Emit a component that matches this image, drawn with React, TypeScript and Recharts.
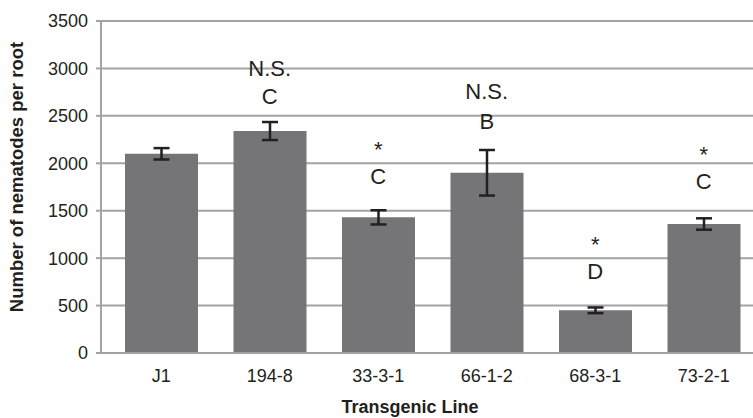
import { ComposedChart, Bar, Scatter, ErrorBar, XAxis, YAxis, CartesianGrid } from 'recharts'

const lines = ['J1', '194-8', '33-3-1', '66-1-2', '68-3-1', '73-2-1']
const means = [2100, 2340, 1430, 1900, 450, 1360]
const errs = [60, 95, 75, 240, 30, 60]
const letters = ['', 'C', 'C', 'B', 'D', 'C']
const letterPos = [null, 2710, 1865, 2445, 865, 1810]
const sigs = ['', 'N.S.', '*', 'N.S.', '*', '*']
const sigPos = [null, 3005, 2215, 2765, 1210, 2160]
const yTicks = [0, 500, 1000, 1500, 2000, 2500, 3000, 3500]

const data = lines.map((name, i) => ({
  name,
  mean: means[i],
  err: errs[i],
  letter: letters[i],
  letterY: letterPos[i],
  sig: sigs[i],
  sigY: sigPos[i],
}))

const FONT = '"Liberation Sans", Arial, sans-serif'
const GRID = '#a3a3a5'

function textShape(key: 'letter' | 'sig') {
  return (p: any) => {
    const txt = p.payload?.[key]
    if (!txt || p.cy == null || isNaN(p.cy)) return <g />
    const fs = 22
    const shift = txt === '*' ? 0.62 : 0.36
    return (
      <text x={p.cx} y={p.cy + fs * shift} textAnchor="middle" fontSize={fs} fontFamily={FONT} fill="#231f20">
        {txt}
      </text>
    )
  }
}

export default function App() {
  return (
    <div style={{ position: 'absolute', left: 0, top: 0, width: 753, height: 418, overflow: 'hidden', background: '#fff' }}>
      <ComposedChart width={770} height={418} data={data} margin={{ top: 21, right: 12, bottom: 35, left: 0 }}>
        <CartesianGrid vertical={false} stroke={GRID} strokeWidth={2} />
        <XAxis
          dataKey="name"
          height={30}
          padding={{ left: 6, right: 0 }}
          tickLine={false}
          tickSize={0}
          tickMargin={16}
          axisLine={{ stroke: GRID, strokeWidth: 2 }}
          tick={{ fontSize: 18, fontFamily: FONT, fill: '#231f20' }}
          label={{
            content: () => (
              <text x={410} y={413} textAnchor="middle" fontSize={18} fontWeight="bold" fontFamily={FONT} fill="#231f20">
                Transgenic Line
              </text>
            ),
          }}
        />
        <YAxis
          width={101}
          domain={[0, 3500]}
          ticks={yTicks}
          tickSize={5}
          tickMargin={8}
          tickLine={{ stroke: GRID, strokeWidth: 2 }}
          axisLine={{ stroke: GRID, strokeWidth: 2 }}
          tick={{ fontSize: 18, fontFamily: FONT, fill: '#231f20' }}
          label={{
            content: () => (
              <text
                x={0}
                y={0}
                transform="translate(23,177) rotate(-90)"
                textAnchor="middle"
                fontSize={18.5}
                fontWeight="bold"
                fontFamily={FONT}
                fill="#231f20"
              >
                Number of nematodes per root
              </text>
            ),
          }}
        />
        <Bar dataKey="mean" fill="#757577" barSize={73} isAnimationActive={false}>
          <ErrorBar dataKey="err" width={8} stroke="#231f20" strokeWidth={2.5} />
        </Bar>
        <Scatter dataKey="letterY" shape={textShape('letter')} isAnimationActive={false} />
        <Scatter dataKey="sigY" shape={textShape('sig')} isAnimationActive={false} />
      </ComposedChart>
    </div>
  )
}
